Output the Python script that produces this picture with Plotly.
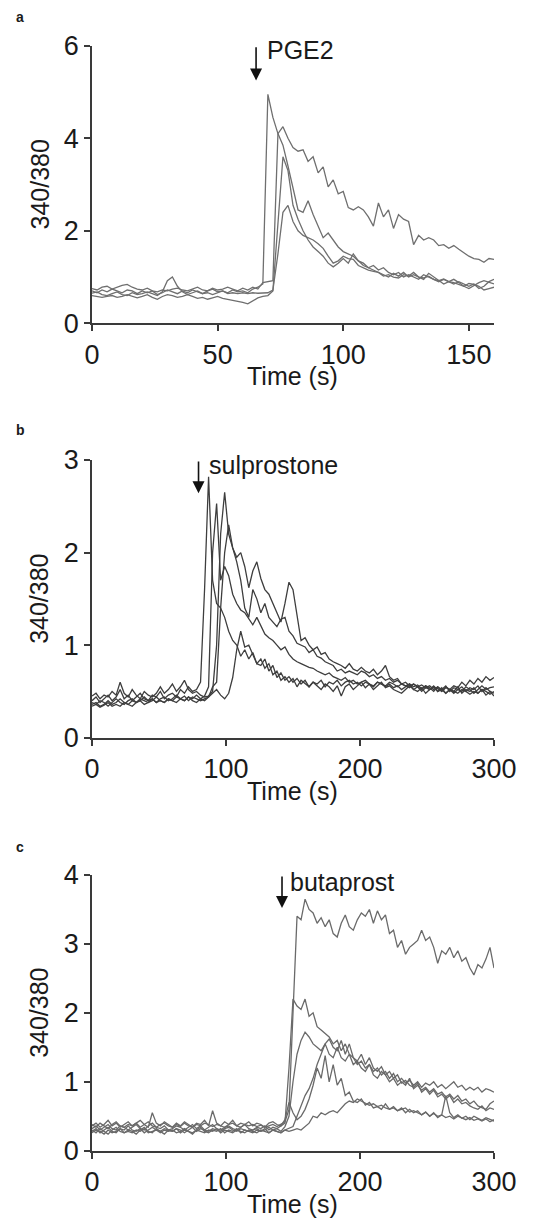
import plotly.graph_objects as go

# ---- panel a: PGE2 (sampled every 2 s, 0-160 s) ----
time_a = list(range(0, 161, 2))
pge2_1 = [0.70, 0.66, 0.72, 0.68, 0.74, 0.70, 0.66, 0.72, 0.70, 0.64,
          0.70, 0.66, 0.70, 0.62, 0.66, 0.72, 0.68, 0.64, 0.70, 0.66,
          0.72, 0.68, 0.64, 0.70, 0.74, 0.68, 0.70, 0.66, 0.72, 0.68,
          0.70, 0.66, 0.74, 0.78, 0.85, 4.95, 4.45, 4.10, 3.85, 3.40,
          2.90, 2.45, 2.40, 2.65, 2.35, 2.10, 1.85, 1.95, 1.80, 1.65,
          1.55, 1.50, 1.45, 1.35, 1.30, 1.20, 1.25, 1.15, 1.20, 1.10,
          1.05, 1.10, 1.00, 1.05, 1.00, 0.95, 1.05, 1.00, 0.95, 0.90,
          0.95, 0.90, 0.85, 0.90, 0.85, 0.80, 0.85, 0.75, 0.80, 0.90,
          0.95]
pge2_2 = [0.75, 0.72, 0.78, 0.80, 0.74, 0.78, 0.82, 0.84, 0.78, 0.74,
          0.72, 0.76, 0.70, 0.68, 0.72, 0.70, 0.74, 0.76, 0.72, 0.70,
          0.74, 0.78, 0.72, 0.70, 0.76, 0.72, 0.74, 0.78, 0.74, 0.70,
          0.76, 0.72, 0.78, 0.74, 0.88, 0.90, 0.92, 4.10, 4.25, 4.00,
          3.80, 3.72, 3.75, 3.50, 3.60, 3.25, 3.38, 2.95, 3.10, 2.80,
          2.85, 2.50, 2.45, 2.52, 2.45, 2.30, 2.10, 2.60, 2.30, 2.45,
          2.05, 2.35, 2.25, 2.20, 1.70, 1.90, 1.80, 1.85, 1.80, 1.68,
          1.70, 1.62, 1.68, 1.60, 1.52, 1.45, 1.40, 1.38, 1.32, 1.40,
          1.38]
pge2_3 = [0.60, 0.58, 0.56, 0.58, 0.60, 0.56, 0.58, 0.62, 0.58, 0.55,
          0.58, 0.62, 0.56, 0.52, 0.58, 0.62, 0.60, 0.56, 0.58, 0.62,
          0.58, 0.54, 0.56, 0.52, 0.55, 0.58, 0.54, 0.52, 0.50, 0.48,
          0.45, 0.42, 0.48, 0.55, 0.58, 0.60, 0.70, 2.20, 3.60, 3.30,
          2.55, 2.25, 2.00, 1.80, 1.65, 1.55, 1.45, 1.30, 1.22, 1.30,
          1.40, 1.30, 1.50, 1.35, 1.25, 1.20, 1.15, 1.10, 1.05, 1.00,
          1.08, 1.02, 1.10, 1.00, 1.05, 1.00, 0.95, 1.08, 1.00, 0.92,
          0.85, 0.90, 0.95, 0.88, 0.80, 0.75, 0.82, 0.88, 0.92, 0.88,
          0.85]
pge2_4 = [0.65, 0.68, 0.62, 0.60, 0.64, 0.68, 0.62, 0.60, 0.66, 0.62,
          0.64, 0.68, 0.64, 0.60, 0.68, 0.92, 1.00, 0.80, 0.68, 0.62,
          0.66, 0.70, 0.64, 0.66, 0.62, 0.66, 0.70, 0.64, 0.66, 0.64,
          0.66, 0.64, 0.66, 0.65, 0.66, 0.66, 0.72, 1.50, 2.40, 2.55,
          2.20, 2.00, 1.90, 1.85, 1.80, 1.72, 1.62, 1.45, 1.30, 1.35,
          1.45, 1.40, 1.38, 1.25, 1.20, 1.15, 1.12, 1.10, 1.02, 1.05,
          1.00, 0.98, 1.05, 1.02, 1.10, 1.00, 0.98, 1.02, 0.95, 0.92,
          0.96, 0.90, 0.88, 0.84, 0.80, 0.86, 0.84, 0.80, 0.72, 0.75,
          0.78]

# ---- panel b: sulprostone (every 3 s, 0-300 s) ----
time_b = list(range(0, 301, 3))
sulp_1 = [0.40, 0.44, 0.38, 0.42, 0.46, 0.40, 0.44, 0.52, 0.42, 0.46,
          0.40, 0.44, 0.48, 0.42, 0.40, 0.46, 0.44, 0.50, 0.42, 0.46,
          0.48, 0.44, 0.52, 0.48, 0.55, 0.50, 0.52, 0.60, 1.60, 2.82,
          1.70, 1.45, 1.40, 1.30, 1.15, 1.05, 1.00, 0.88, 0.95, 0.85,
          0.92, 0.80, 0.78, 0.85, 0.72, 0.78, 0.65, 0.70, 0.62, 0.66,
          0.60, 0.64, 0.58, 0.62, 0.55, 0.60, 0.58, 0.62, 0.55, 0.60,
          0.58, 0.62, 0.56, 0.60, 0.62, 0.58, 0.60, 0.56, 0.60, 0.58,
          0.55, 0.60, 0.58, 0.56, 0.60, 0.58, 0.55, 0.58, 0.56, 0.54,
          0.58, 0.55, 0.52, 0.56, 0.54, 0.50, 0.55, 0.52, 0.56, 0.50,
          0.54, 0.52, 0.55, 0.50, 0.54, 0.52, 0.56, 0.50, 0.54, 0.50,
          0.48]
sulp_2 = [0.36, 0.38, 0.34, 0.36, 0.40, 0.36, 0.38, 0.42, 0.38, 0.36,
          0.40, 0.38, 0.42, 0.40, 0.38, 0.40, 0.44, 0.40, 0.38, 0.42,
          0.40, 0.44, 0.42, 0.40, 0.44, 0.42, 0.46, 0.42, 0.45, 0.55,
          2.00, 2.53, 1.70, 1.85, 1.75, 1.55, 1.45, 1.38, 1.35, 1.28,
          1.22, 1.30, 1.20, 1.12, 1.08, 1.05, 1.00, 0.95, 0.98, 0.90,
          0.85, 0.82, 0.80, 0.78, 0.76, 0.75, 0.72, 0.70, 0.68, 0.70,
          0.66, 0.64, 0.62, 0.65, 0.60, 0.62, 0.58, 0.60, 0.62, 0.58,
          0.56, 0.60, 0.58, 0.55, 0.58, 0.54, 0.56, 0.52, 0.55, 0.58,
          0.52, 0.55, 0.50, 0.54, 0.52, 0.55, 0.50, 0.52, 0.48, 0.52,
          0.50, 0.48, 0.52, 0.50, 0.47, 0.50, 0.48, 0.52, 0.46, 0.50,
          0.45]
sulp_3 = [0.45, 0.48, 0.42, 0.46, 0.44, 0.50, 0.46, 0.60, 0.48, 0.44,
          0.52, 0.46, 0.42, 0.50, 0.46, 0.44, 0.48, 0.55, 0.48, 0.52,
          0.58, 0.50, 0.55, 0.62, 0.52, 0.48, 0.50, 0.46, 0.44, 0.45,
          0.50, 1.00, 2.20, 2.65, 2.20, 2.05, 1.95, 2.00, 1.85, 1.62,
          1.80, 1.90, 1.72, 1.60, 1.55, 1.45, 1.35, 1.25, 1.45, 1.68,
          1.60, 1.30, 1.05, 1.08, 1.00, 0.95, 0.98, 0.90, 0.92, 0.85,
          0.82, 0.80, 0.78, 0.75, 0.80, 0.74, 0.72, 0.76, 0.72, 0.70,
          0.74, 0.68, 0.72, 0.78, 0.66, 0.62, 0.64, 0.58, 0.60, 0.56,
          0.58, 0.55, 0.57, 0.54, 0.56, 0.52, 0.55, 0.50, 0.54, 0.52,
          0.56, 0.54, 0.60, 0.56, 0.62, 0.58, 0.64, 0.60, 0.66, 0.62,
          0.65]
sulp_4 = [0.38, 0.36, 0.40, 0.38, 0.34, 0.38, 0.42, 0.38, 0.36, 0.40,
          0.42, 0.38, 0.40, 0.44, 0.40, 0.42, 0.38, 0.42, 0.44, 0.40,
          0.42, 0.46, 0.42, 0.45, 0.40, 0.44, 0.42, 0.40, 0.42, 0.44,
          0.55, 0.60, 1.40, 2.00, 2.30, 2.05, 1.90, 1.70, 1.40, 1.30,
          1.60, 1.50, 1.35, 1.45, 1.30, 1.25, 1.20, 1.28, 1.30, 1.15,
          1.10, 1.02, 1.00, 0.98, 0.92, 0.95, 0.88, 0.86, 0.82, 0.80,
          0.78, 0.72, 0.74, 0.70, 0.72, 0.70, 0.68, 0.72, 0.70, 0.66,
          0.68, 0.64, 0.66, 0.62, 0.64, 0.60, 0.62, 0.58, 0.56, 0.58,
          0.55, 0.57, 0.53, 0.56, 0.52, 0.55, 0.53, 0.50, 0.55, 0.52,
          0.48, 0.52, 0.50, 0.55, 0.52, 0.48, 0.52, 0.56, 0.52, 0.54,
          0.55]
sulp_5 = [0.34, 0.36, 0.33, 0.35, 0.38, 0.34, 0.36, 0.34, 0.38, 0.36,
          0.34, 0.38, 0.40, 0.36, 0.38, 0.42, 0.38, 0.40, 0.38, 0.42,
          0.40, 0.38, 0.42, 0.40, 0.44, 0.40, 0.38, 0.42, 0.40, 0.44,
          0.48, 0.52, 0.46, 0.42, 0.48, 0.65, 0.95, 1.15, 0.98, 1.00,
          0.90, 0.80, 0.85, 0.75, 0.80, 0.68, 0.72, 0.62, 0.66, 0.60,
          0.64, 0.55, 0.62, 0.58, 0.55, 0.60, 0.56, 0.52, 0.58, 0.55,
          0.50, 0.56, 0.45, 0.55, 0.58, 0.52, 0.56, 0.60, 0.54, 0.58,
          0.52, 0.56, 0.60, 0.54, 0.56, 0.52, 0.50, 0.48, 0.52, 0.56,
          0.52, 0.50, 0.54, 0.48, 0.52, 0.56, 0.50, 0.54, 0.48, 0.52,
          0.50, 0.55, 0.48, 0.52, 0.50, 0.54, 0.48, 0.52, 0.50, 0.47,
          0.50]

# ---- panel c: butaprost (every 3 s, 0-300 s) ----
time_c = list(range(0, 301, 3))
buta_1 = [0.38, 0.34, 0.40, 0.36, 0.32, 0.38, 0.42, 0.36, 0.34, 0.38,
          0.36, 0.40, 0.34, 0.38, 0.42, 0.36, 0.34, 0.38, 0.40, 0.36,
          0.34, 0.38, 0.35, 0.40, 0.36, 0.34, 0.38, 0.36, 0.40, 0.38,
          0.35, 0.38, 0.36, 0.34, 0.38, 0.40, 0.36, 0.34, 0.38, 0.36,
          0.38, 0.35, 0.37, 0.34, 0.36, 0.38, 0.35, 0.38, 0.42, 0.60,
          2.00, 3.40, 3.35, 3.65, 3.50, 3.45, 3.30, 3.38, 3.25, 3.35,
          3.15, 3.10, 3.30, 3.42, 3.25, 3.20, 3.35, 3.45, 3.40, 3.50,
          3.30, 3.48, 3.35, 3.42, 3.15, 3.20, 2.95, 3.05, 2.85, 2.95,
          3.00, 3.05, 3.20, 3.05, 3.10, 2.95, 2.72, 2.90, 2.85, 2.95,
          2.80, 2.90, 2.75, 2.80, 2.65, 2.55, 2.70, 2.65, 2.78, 2.95,
          2.65]
buta_2 = [0.32, 0.36, 0.30, 0.34, 0.38, 0.32, 0.30, 0.36, 0.34, 0.30,
          0.34, 0.38, 0.32, 0.30, 0.36, 0.40, 0.34, 0.32, 0.36, 0.30,
          0.32, 0.36, 0.34, 0.30, 0.34, 0.38, 0.32, 0.36, 0.30, 0.34,
          0.38, 0.32, 0.30, 0.34, 0.36, 0.32, 0.30, 0.34, 0.38, 0.32,
          0.30, 0.34, 0.32, 0.36, 0.30, 0.34, 0.32, 0.36, 0.40, 1.20,
          2.20, 2.10, 2.05, 2.20, 1.95, 2.00, 1.80, 1.75, 1.70, 1.65,
          1.55, 1.60, 1.45, 1.55, 1.40, 1.35, 1.25, 1.30, 1.20, 1.25,
          1.15, 1.20, 1.10, 1.15, 1.05, 1.12, 1.00, 1.05, 0.98, 1.02,
          0.95, 1.00, 0.92, 0.98, 0.95, 1.00, 0.92, 0.96, 0.90, 0.95,
          1.00, 0.92, 0.95, 0.88, 0.92, 0.88, 0.92, 0.85, 0.90, 0.88,
          0.85]
buta_3 = [0.28, 0.32, 0.26, 0.30, 0.34, 0.28, 0.26, 0.32, 0.30, 0.36,
          0.30, 0.28, 0.32, 0.26, 0.30, 0.34, 0.30, 0.28, 0.32, 0.30,
          0.28, 0.32, 0.30, 0.26, 0.30, 0.34, 0.28, 0.32, 0.30, 0.28,
          0.32, 0.30, 0.28, 0.32, 0.34, 0.30, 0.28, 0.32, 0.30, 0.28,
          0.30, 0.32, 0.28, 0.30, 0.34, 0.30, 0.32, 0.28, 0.35, 0.50,
          1.00, 1.40, 1.60, 1.72, 1.65, 1.55, 1.50, 1.45, 1.55, 1.40,
          1.35, 1.50, 1.35, 1.30, 1.40, 1.25, 1.30, 1.20, 1.15, 1.25,
          1.10, 1.05, 1.15, 1.10, 1.00, 1.05, 0.95, 1.00, 0.95, 1.05,
          0.90, 0.95, 0.88, 0.92, 0.85, 0.90, 0.82, 0.85, 0.78, 0.82,
          0.75, 0.80, 0.72, 0.75, 0.68, 0.72, 0.65, 0.62, 0.60, 0.68,
          0.72]
buta_4 = [0.26, 0.30, 0.28, 0.24, 0.30, 0.26, 0.28, 0.32, 0.26, 0.28,
          0.26, 0.30, 0.28, 0.32, 0.26, 0.28, 0.30, 0.26, 0.30, 0.28,
          0.30, 0.26, 0.28, 0.32, 0.28, 0.26, 0.30, 0.28, 0.26, 0.30,
          0.28, 0.32, 0.26, 0.30, 0.28, 0.26, 0.30, 0.28, 0.26, 0.30,
          0.28, 0.26, 0.30, 0.28, 0.26, 0.30, 0.28, 0.26, 0.30, 0.32,
          0.35, 0.50, 0.65, 0.80, 0.90, 1.05, 1.25, 1.40, 1.55, 1.62,
          1.50, 1.45, 1.60, 1.40, 1.55, 1.35, 1.30, 1.40, 1.25, 1.35,
          1.20, 1.15, 1.22, 1.10, 1.15, 1.05, 1.10, 0.98, 1.02, 0.95,
          0.92, 0.98, 0.85, 0.90, 0.82, 0.88, 0.78, 0.82, 0.75, 0.80,
          0.70, 0.75, 0.68, 0.70, 0.65, 0.62, 0.60, 0.65, 0.58, 0.62,
          0.60]
buta_5 = [0.36, 0.40, 0.34, 0.38, 0.44, 0.36, 0.40, 0.34, 0.38, 0.42,
          0.36, 0.40, 0.44, 0.38, 0.34, 0.55, 0.40, 0.36, 0.42, 0.38,
          0.34, 0.40, 0.36, 0.42, 0.38, 0.34, 0.40, 0.38, 0.44, 0.36,
          0.58, 0.40, 0.36, 0.42, 0.38, 0.44, 0.36, 0.40, 0.38, 0.42,
          0.36, 0.40, 0.38, 0.34, 0.40, 0.42, 0.38, 0.36, 0.45, 0.70,
          0.55, 0.45, 0.50, 0.60, 0.75, 0.95, 1.20, 1.05, 1.38, 1.00,
          1.25, 0.95, 1.05, 0.80, 0.85, 0.72, 0.70, 0.75, 0.66, 0.70,
          0.62, 0.64, 0.60, 0.68, 0.60, 0.62, 0.58, 0.62, 0.55, 0.60,
          0.55, 0.58, 0.52, 0.56, 0.50, 0.55, 0.48, 0.52, 0.80, 0.55,
          0.48, 0.52, 0.47, 0.50, 0.45, 0.50, 0.47, 0.44, 0.48, 0.45,
          0.43]
buta_6 = [0.30, 0.26, 0.32, 0.28, 0.24, 0.30, 0.34, 0.28, 0.26, 0.30,
          0.28, 0.24, 0.30, 0.34, 0.28, 0.26, 0.32, 0.28, 0.24, 0.30,
          0.28, 0.32, 0.26, 0.30, 0.28, 0.24, 0.30, 0.34, 0.28, 0.26,
          0.30, 0.28, 0.32, 0.26, 0.30, 0.28, 0.32, 0.26, 0.30, 0.28,
          0.26, 0.30, 0.28, 0.32, 0.26, 0.30, 0.28, 0.26, 0.30, 0.28,
          0.30, 0.32, 0.30, 0.35, 0.40, 0.50, 0.48, 0.55, 0.52, 0.56,
          0.58, 0.55, 0.62, 0.68, 0.72, 0.70, 0.75, 0.72, 0.70, 0.66,
          0.68, 0.64, 0.66, 0.62, 0.60, 0.64, 0.58, 0.60, 0.62, 0.56,
          0.58, 0.55, 0.52, 0.56, 0.50, 0.54, 0.50, 0.52, 0.48, 0.50,
          0.46, 0.50, 0.47, 0.45, 0.48, 0.44, 0.46, 0.43, 0.46, 0.42,
          0.45]

x_ticks_a = [0, 50, 100, 150]
x_ticks_bc = [0, 100, 200, 300]
y_ticks_a = [0, 2, 4, 6]
y_ticks_b = [0, 1, 2, 3]
y_ticks_c = [0, 1, 2, 3, 4]

FONT = "Liberation Sans, Arial, Helvetica, sans-serif"
TEXT = "#1a1a1a"
AXIS = "#3a3a3a"

# the page body adds an 8 px margin, so the figure starts 8 px in
W, H, OFF = 522, 1215, 8


def px_x(px):
    return (px - OFF) / W


def px_y(py):
    return 1 - (py - OFF) / H


panels = [
    dict(t=time_a, ys=[pge2_1, pge2_2, pge2_3, pge2_4], col="#6f6f6f",
         xr=[0, 160], yr=[0, 6], xt=x_ticks_a, yt=y_ticks_a,
         drug="PGE2", ax=65.3, tip=5.25, tx=68.7, ty=5.9,
         top=45.7, bottom=323.3, letter="a", ly=17),
    dict(t=time_b, ys=[sulp_1, sulp_2, sulp_3, sulp_4, sulp_5], col="#3e3e3e",
         xr=[0, 300], yr=[0, 3], xt=x_ticks_bc, yt=y_ticks_b,
         drug="sulprostone", ax=79.5, tip=2.64, tx=85.5, ty=2.95,
         top=460, bottom=737.7, letter="b", ly=430),
    dict(t=time_c, ys=[buta_1, buta_2, buta_3, buta_4, buta_5, buta_6], col="#6a6a6a",
         xr=[0, 300], yr=[0, 4], xt=x_ticks_bc, yt=y_ticks_c,
         drug="butaprost", ax=141.8, tip=3.52, tx=146, ty=3.9,
         top=875, bottom=1150.7, letter="c", ly=847),
]

XDOM = [px_x(92), px_x(494)]

fig = go.Figure()
annotations = []
layout_axes = {}

for k, p in enumerate(panels, start=1):
    xa = "x" if k == 1 else f"x{k}"
    ya = "y" if k == 1 else f"y{k}"
    for ys in p["ys"]:
        fig.add_trace(go.Scatter(
            x=p["t"], y=ys, mode="lines", xaxis=xa, yaxis=ya,
            line=dict(color=p["col"], width=1.3),
            showlegend=False, hoverinfo="skip",
        ))

    ydom = [px_y(p["bottom"]), px_y(p["top"])]
    common = dict(showline=True, linecolor=AXIS, linewidth=1.6, ticks="outside",
                  ticklen=6, tickwidth=1.6, tickcolor=AXIS, showgrid=False,
                  zeroline=False, automargin=False,
                  tickfont=dict(family=FONT, size=27, color=TEXT))
    layout_axes["xaxis" if k == 1 else f"xaxis{k}"] = dict(
        domain=XDOM, anchor=ya, range=p["xr"], tickvals=p["xt"], **common)
    layout_axes["yaxis" if k == 1 else f"yaxis{k}"] = dict(
        domain=ydom, anchor=xa, range=p["yr"], tickvals=p["yt"], **common)

    # axis titles
    annotations.append(dict(text="Time (s)", xref="paper", yref="paper",
                            x=(XDOM[0] + XDOM[1]) / 2, y=px_y(p["bottom"] + 53),
                            xanchor="center", yanchor="middle", showarrow=False,
                            font=dict(family=FONT, size=25, color=TEXT)))
    annotations.append(dict(text="340/380", xref="paper", yref="paper",
                            x=px_x(39), y=sum(ydom) / 2, textangle=-90,
                            xanchor="center", yanchor="middle", showarrow=False,
                            font=dict(family=FONT, size=25, color=TEXT)))
    # drug application arrow and label
    annotations.append(dict(text="", xref=xa, yref=ya, x=p["ax"], y=p["tip"],
                            axref=xa, ayref=ya, ax=p["ax"], ay=p["yr"][1],
                            showarrow=True, arrowhead=2, arrowsize=1.5,
                            arrowwidth=1.6, arrowcolor="#111111"))
    annotations.append(dict(text=p["drug"], xref=xa, yref=ya, x=p["tx"], y=p["ty"],
                            xanchor="left", yanchor="middle", showarrow=False,
                            font=dict(family=FONT, size=25, color=TEXT)))
    # panel letter
    annotations.append(dict(text=f"<b>{p['letter']}</b>", xref="paper", yref="paper",
                            x=px_x(14), y=px_y(p["ly"]), xanchor="left", yanchor="middle",
                            showarrow=False, font=dict(family=FONT, size=14, color=TEXT)))

fig.update_layout(
    width=W, height=H,
    margin=dict(l=0, r=0, t=0, b=0, autoexpand=False),
    paper_bgcolor="white", plot_bgcolor="white",
    annotations=annotations,
    **layout_axes,
)

fig.write_html("out.html")
